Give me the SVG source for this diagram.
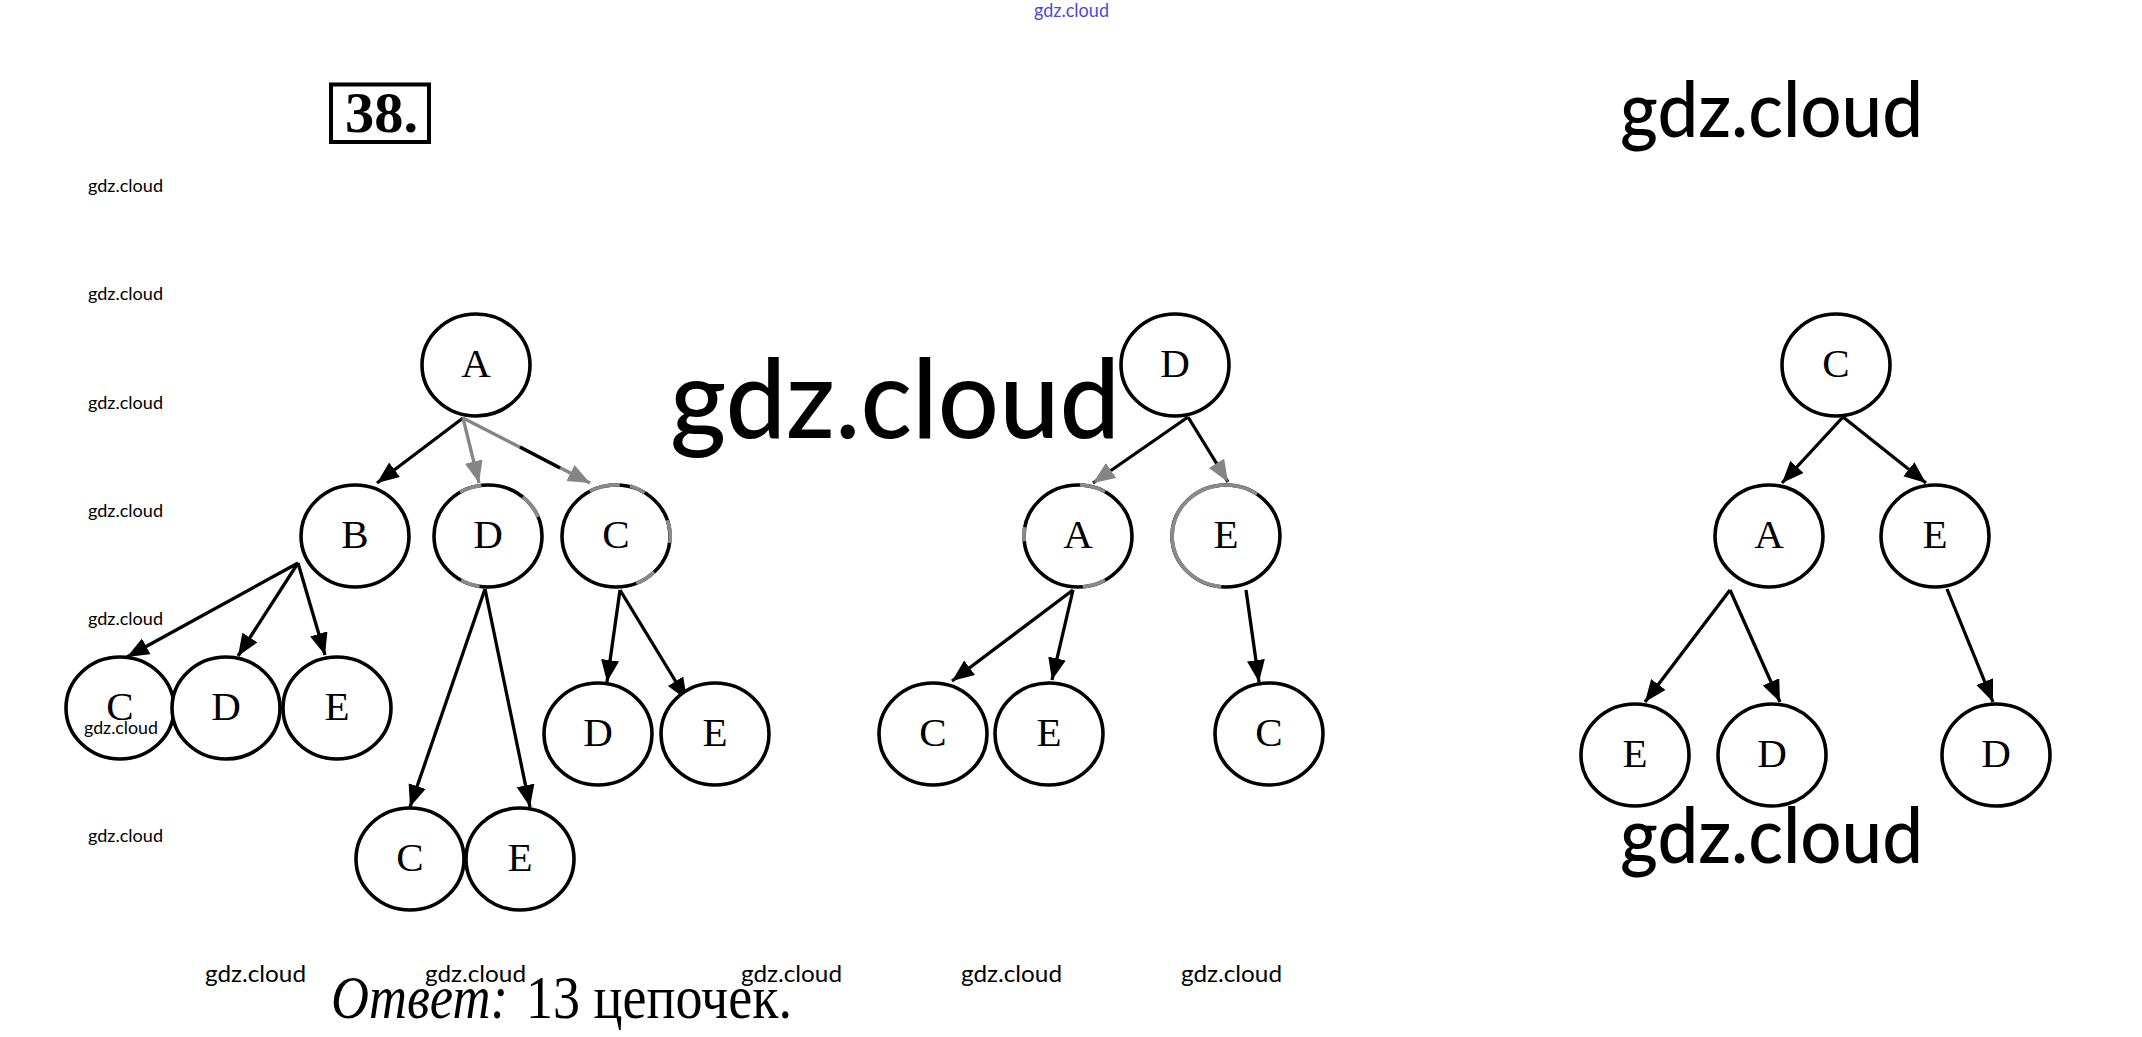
<svg xmlns="http://www.w3.org/2000/svg" width="2142" height="1037" viewBox="0 0 2142 1037">
<style>
.nd ellipse{fill:#fff;stroke:#000;stroke-width:3.6}
.nd text{font-family:"Liberation Serif","Times New Roman",serif;font-size:41px;text-anchor:middle;fill:#000}
.gr{fill:none;stroke:#8a8a8a;stroke-width:3.7}
.ed line{stroke:#000;stroke-width:3.3}
.ed line.g{stroke:#858585}
.wm{font-family:Lato,"Open Sans",sans-serif;fill:#000}
</style>
<defs>
<marker id="ah" markerUnits="userSpaceOnUse" markerWidth="24" markerHeight="20" refX="22" refY="9" orient="auto"><path d="M0,0 L22,9 L0,18 z" fill="#000"/></marker>
<marker id="ahg" markerUnits="userSpaceOnUse" markerWidth="24" markerHeight="20" refX="22" refY="9" orient="auto"><path d="M0,0 L22,9 L0,18 z" fill="#858585"/></marker>
</defs>
<rect width="2142" height="1037" fill="#fff"/>

<g id="title">
<rect x="331" y="84.5" width="98" height="57.5" fill="none" stroke="#000" stroke-width="4"/>
<text x="345" y="132" font-family="Liberation Serif,serif" font-weight="bold" font-size="56" textLength="73" lengthAdjust="spacingAndGlyphs">38.</text>
</g>

<g id="connectors" class="ed">
<line x1="463" y1="418" x2="377" y2="483" marker-end="url(#ah)"/>
<line class="g" x1="463" y1="418" x2="479" y2="483" marker-end="url(#ahg)"/>
<line class="g" x1="463" y1="418" x2="590" y2="483" marker-end="url(#ahg)"/>
<line x1="520" y1="447" x2="560" y2="468"/>
<line x1="298" y1="563" x2="127" y2="657" marker-end="url(#ah)"/>
<line x1="298" y1="563" x2="238" y2="656" marker-end="url(#ah)"/>
<line x1="298" y1="563" x2="325" y2="655" marker-end="url(#ah)"/>
<line x1="485" y1="589" x2="410" y2="807" marker-end="url(#ah)"/>
<line x1="485" y1="589" x2="530" y2="807" marker-end="url(#ah)"/>
<line x1="620" y1="590" x2="607" y2="682" marker-end="url(#ah)"/>
<line x1="620" y1="590" x2="687" y2="700" marker-end="url(#ah)"/>

<line x1="1188" y1="417" x2="1093" y2="483" marker-end="url(#ahg)"/>
<line x1="1188" y1="417" x2="1228" y2="482" marker-end="url(#ahg)"/>
<line x1="1073" y1="590" x2="952" y2="681" marker-end="url(#ah)"/>
<line x1="1073" y1="590" x2="1052" y2="680" marker-end="url(#ah)"/>
<line x1="1246" y1="590" x2="1259" y2="682" marker-end="url(#ah)"/>

<line x1="1843" y1="417" x2="1782" y2="483" marker-end="url(#ah)"/>
<line x1="1843" y1="417" x2="1926" y2="483" marker-end="url(#ah)"/>
<line x1="1730" y1="590" x2="1645" y2="702" marker-end="url(#ah)"/>
<line x1="1730" y1="590" x2="1780" y2="702" marker-end="url(#ah)"/>
<line x1="1947" y1="589" x2="1993" y2="702" marker-end="url(#ah)"/>
</g>

<g id="t1-A" class="nd"><ellipse cx="476" cy="365" rx="54" ry="51"/><text x="476" y="377">A</text></g>
<g id="t1-B" class="nd"><ellipse cx="355" cy="536" rx="54" ry="51"/><text x="355" y="548">B</text></g>
<g id="t1-D" class="nd"><ellipse cx="488" cy="536" rx="54" ry="51"/><text x="488" y="548" fill="#666">D</text>
<path class="gr" d="M460.1,492.3 A54,51 0 0 1 481.4,485.4"/>
<path class="gr" d="M522.7,496.9 A54,51 0 0 1 538.1,516.9"/>
<path class="gr" d="M479.6,586.4 A54,51 0 0 1 461,580.2"/>
</g>
<g id="t1-C" class="nd"><ellipse cx="616" cy="536" rx="54" ry="51"/><text x="616" y="548" fill="#888">C</text>
<path class="gr" d="M589.8,491.4 A54,51 0 0 1 619.8,485.1"/>
<path class="gr" d="M630,485.7 A54,51 0 0 1 644.6,492.8"/>
<path class="gr" d="M667.4,520.2 A54,51 0 0 1 669.8,543.1"/>
<path class="gr" d="M654.2,572.1 A54,51 0 0 1 636.2,583.3"/>
</g>
<g id="t1-C2" class="nd"><ellipse cx="120" cy="708" rx="54" ry="51"/><text x="120" y="720">C</text></g>
<g id="t1-D2" class="nd"><ellipse cx="226" cy="708" rx="54" ry="51"/><text x="226" y="720">D</text></g>
<g id="t1-E2" class="nd"><ellipse cx="337" cy="708" rx="54" ry="51"/><text x="337" y="720">E</text></g>
<g id="t1-C3" class="nd"><ellipse cx="410" cy="859" rx="54" ry="51"/><text x="410" y="871">C</text></g>
<g id="t1-E3" class="nd"><ellipse cx="520" cy="859" rx="54" ry="51"/><text x="520" y="871">E</text></g>
<g id="t1-D3" class="nd"><ellipse cx="598" cy="734" rx="54" ry="51"/><text x="598" y="746">D</text></g>
<g id="t1-E4" class="nd"><ellipse cx="715" cy="734" rx="54" ry="51"/><text x="715" y="746">E</text></g>

<g id="t2-D" class="nd"><ellipse cx="1175" cy="365" rx="54" ry="51"/><text x="1175" y="377">D</text></g>
<g id="t2-A" class="nd"><ellipse cx="1078" cy="536" rx="54" ry="51"/><text x="1078" y="548">A</text>
<path class="gr" d="M1079.9,485 A54,51 0 0 1 1105,491.8"/>
<path class="gr" d="M1024.6,527.1 A54,51 0 0 0 1024.2,541.3"/>
<path class="gr" d="M1105,580.2 A54,51 0 0 1 1082.7,586.8"/>
</g>
<g id="t2-E" class="nd"><ellipse cx="1226" cy="536" rx="54" ry="51"/><text x="1226" y="548">E</text>
<path class="gr" d="M1221.3,586.8 A54,51 0 1 1 1257,494.2"/>
</g>
<g id="t2-C" class="nd"><ellipse cx="933" cy="734" rx="54" ry="51"/><text x="933" y="746">C</text></g>
<g id="t2-E2" class="nd"><ellipse cx="1049" cy="734" rx="54" ry="51"/><text x="1049" y="746">E</text></g>
<g id="t2-C2" class="nd"><ellipse cx="1269" cy="734" rx="54" ry="51"/><text x="1269" y="746">C</text></g>

<g id="t3-C" class="nd"><ellipse cx="1836" cy="365" rx="54" ry="51"/><text x="1836" y="377">C</text></g>
<g id="t3-A" class="nd"><ellipse cx="1769" cy="536" rx="54" ry="51"/><text x="1769" y="548">A</text></g>
<g id="t3-E" class="nd"><ellipse cx="1935" cy="536" rx="54" ry="51"/><text x="1935" y="548">E</text></g>
<g id="t3-E2" class="nd"><ellipse cx="1635" cy="755" rx="54" ry="51"/><text x="1635" y="767">E</text></g>
<g id="t3-D" class="nd"><ellipse cx="1772" cy="755" rx="54" ry="51"/><text x="1772" y="767">D</text></g>
<g id="t3-D2" class="nd"><ellipse cx="1996" cy="755" rx="54" ry="51"/><text x="1996" y="767">D</text></g>

<g id="answer" font-family="Liberation Serif,serif" font-size="62">
<text x="331" y="1018" font-style="italic" textLength="177" lengthAdjust="spacingAndGlyphs">Ответ:</text>
<text x="526" y="1018" textLength="266" lengthAdjust="spacingAndGlyphs">13 цепочек.</text>
</g>

<g id="watermarks" class="wm">
<text x="1034" y="17" font-size="19" fill="#4a4ad8" textLength="75" lengthAdjust="spacingAndGlyphs">gdz.cloud</text>
<text x="1620" y="137" font-size="78" font-weight="500" textLength="303" lengthAdjust="spacingAndGlyphs">gdz.cloud</text>
<text x="670" y="438" font-size="110" font-weight="500" textLength="450" lengthAdjust="spacingAndGlyphs">gdz.cloud</text>
<text x="1620" y="863" font-size="78" font-weight="500" textLength="303" lengthAdjust="spacingAndGlyphs">gdz.cloud</text>
<g font-size="18">
<text x="88" y="192" textLength="75" lengthAdjust="spacingAndGlyphs">gdz.cloud</text>
<text x="88" y="300" textLength="75" lengthAdjust="spacingAndGlyphs">gdz.cloud</text>
<text x="88" y="409" textLength="75" lengthAdjust="spacingAndGlyphs">gdz.cloud</text>
<text x="88" y="517" textLength="75" lengthAdjust="spacingAndGlyphs">gdz.cloud</text>
<text x="88" y="625" textLength="75" lengthAdjust="spacingAndGlyphs">gdz.cloud</text>
<text x="84" y="734" textLength="74" lengthAdjust="spacingAndGlyphs">gdz.cloud</text>
<text x="88" y="842" textLength="75" lengthAdjust="spacingAndGlyphs">gdz.cloud</text>
</g>
<g font-size="24">
<text x="205" y="982" textLength="101" lengthAdjust="spacingAndGlyphs">gdz.cloud</text>
<text x="425" y="982" textLength="101" lengthAdjust="spacingAndGlyphs">gdz.cloud</text>
<text x="741" y="982" textLength="101" lengthAdjust="spacingAndGlyphs">gdz.cloud</text>
<text x="961" y="982" textLength="101" lengthAdjust="spacingAndGlyphs">gdz.cloud</text>
<text x="1181" y="982" textLength="101" lengthAdjust="spacingAndGlyphs">gdz.cloud</text>
</g>
</g>
</svg>
